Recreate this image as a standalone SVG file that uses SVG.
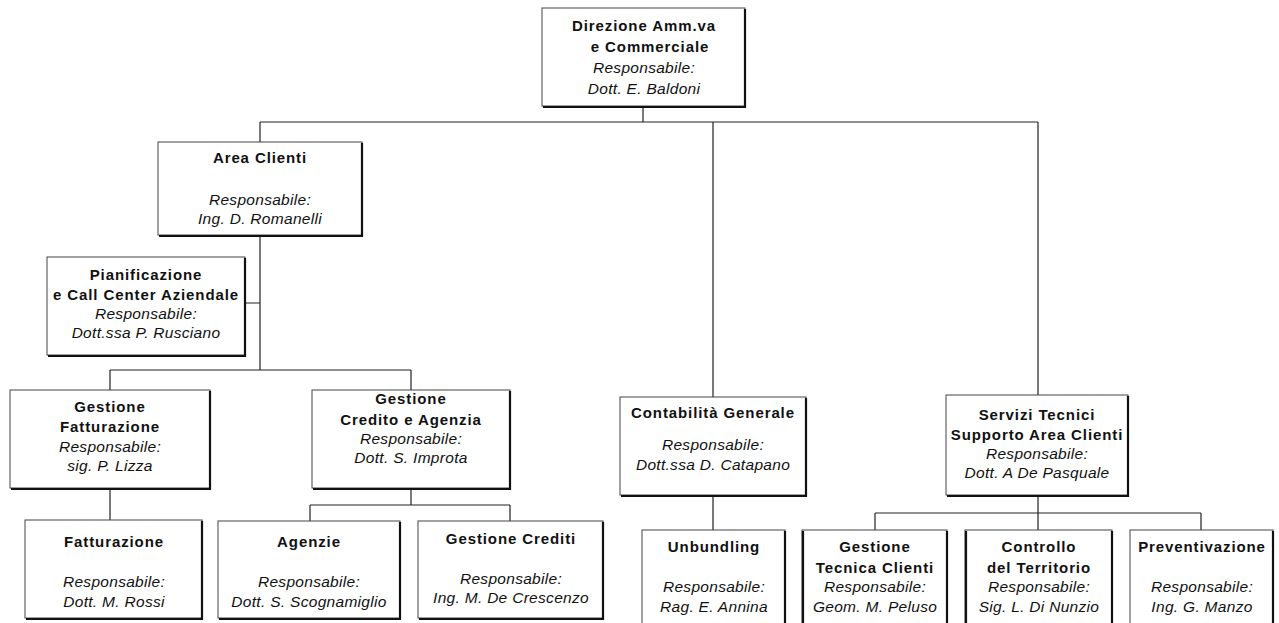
<svg xmlns="http://www.w3.org/2000/svg" width="1279" height="623" viewBox="0 0 1279 623">
<style>
.box{fill:#fff;stroke:#444;stroke-width:1}
.sh{fill:none;stroke:#111;stroke-width:2.2}
.t{font-family:"Liberation Sans",Arial,sans-serif;font-size:15px;font-weight:bold;letter-spacing:0.9px;text-anchor:middle;fill:#111}
.i{font-family:"Liberation Sans",Arial,sans-serif;font-size:15.5px;font-style:italic;letter-spacing:0.3px;text-anchor:middle;fill:#111}
.c{fill:none;stroke:#222;stroke-width:1.2}
</style>
<rect width="1279" height="623" fill="#fff"/>
<g id="connectors">
<path class="c" d="M643 106V122M260 122H1038M260 122V142M713 122V397M1038 122V395"/>
<path class="c" d="M260 235V370M245 303H260M110 370H411M110 370V390M411 370V390"/>
<path class="c" d="M110 488V520M411 488V505M310 505H510M310 505V521M510 505V521"/>
<path class="c" d="M713 495V530M1038 495V513M875 513H1201M875 513V530M1038 513V530M1201 513V530"/>
</g>
<g id="direzione">
<rect class="box" x="542" y="8" width="203" height="98"/>
<path class="sh" d="M745 9V107H543"/>
<text class="t" x="644" y="31">Direzione Amm.va</text>
<text class="t" x="650" y="52">e Commerciale</text>
<text class="i" x="644" y="73">Responsabile:</text>
<text class="i" x="644" y="94">Dott. E. Baldoni</text>
</g>
<g id="area-clienti">
<rect class="box" x="158" y="142" width="204" height="93"/>
<path class="sh" d="M362 143V236H159"/>
<text class="t" x="260" y="163">Area Clienti</text>
<text class="i" x="260" y="205">Responsabile:</text>
<text class="i" x="260" y="224">Ing. D. Romanelli</text>
</g>
<g id="pianificazione">
<rect class="box" x="47" y="257" width="198" height="98"/>
<path class="sh" d="M245 258V356H48"/>
<text class="t" x="146" y="280">Pianificazione</text>
<text class="t" x="146" y="300">e Call Center Aziendale</text>
<text class="i" x="146" y="319">Responsabile:</text>
<text class="i" x="146" y="338">Dott.ssa P. Rusciano</text>
</g>
<g id="gestione-fatturazione">
<rect class="box" x="10" y="390" width="200" height="98"/>
<path class="sh" d="M210 391V489H11"/>
<text class="t" x="110" y="412">Gestione</text>
<text class="t" x="110" y="432">Fatturazione</text>
<text class="i" x="110" y="452">Responsabile:</text>
<text class="i" x="110" y="471">sig. P. Lizza</text>
</g>
<g id="gestione-credito">
<rect class="box" x="312" y="390" width="198" height="98"/>
<path class="sh" d="M510 391V489H313"/>
<text class="t" x="411" y="404">Gestione</text>
<text class="t" x="411" y="425">Credito e Agenzia</text>
<text class="i" x="411" y="444">Responsabile:</text>
<text class="i" x="411" y="463">Dott. S. Improta</text>
</g>
<g id="contabilita">
<rect class="box" x="620" y="397" width="186" height="98"/>
<path class="sh" d="M806 398V496H621"/>
<text class="t" x="713" y="418">Contabilità Generale</text>
<text class="i" x="713" y="450">Responsabile:</text>
<text class="i" x="713" y="470">Dott.ssa D. Catapano</text>
</g>
<g id="servizi-tecnici">
<rect class="box" x="946" y="395" width="182" height="100"/>
<path class="sh" d="M1128 396V496H947"/>
<text class="t" x="1037" y="420">Servizi Tecnici</text>
<text class="t" x="1037" y="440">Supporto Area Clienti</text>
<text class="i" x="1037" y="459">Responsabile:</text>
<text class="i" x="1037" y="478">Dott. A De Pasquale</text>
</g>
<g id="fatturazione">
<rect class="box" x="25" y="520" width="177" height="98"/>
<path class="sh" d="M202 521V619H26"/>
<text class="t" x="114" y="547">Fatturazione</text>
<text class="i" x="114" y="587">Responsabile:</text>
<text class="i" x="114" y="607">Dott. M. Rossi</text>
</g>
<g id="agenzie">
<rect class="box" x="218" y="521" width="182" height="97"/>
<path class="sh" d="M400 522V619H219"/>
<text class="t" x="309" y="547">Agenzie</text>
<text class="i" x="309" y="587">Responsabile:</text>
<text class="i" x="309" y="607">Dott. S. Scognamiglio</text>
</g>
<g id="gestione-crediti">
<rect class="box" x="418" y="521" width="185" height="97"/>
<path class="sh" d="M603 522V619H419"/>
<text class="t" x="511" y="544">Gestione Crediti</text>
<text class="i" x="511" y="584">Responsabile:</text>
<text class="i" x="511" y="603">Ing. M. De Crescenzo</text>
</g>
<g id="unbundling">
<rect class="box" x="642" y="530" width="143" height="97"/>
<path class="sh" d="M785 531V628"/>
<text class="t" x="714" y="552">Unbundling</text>
<text class="i" x="714" y="592">Responsabile:</text>
<text class="i" x="714" y="612">Rag. E. Annina</text>
</g>
<g id="gestione-tecnica">
<rect class="box" x="802" y="530" width="145" height="97"/>
<path class="sh" d="M947 531V628M803 531V628"/>
<text class="t" x="875" y="552">Gestione</text>
<text class="t" x="875" y="573">Tecnica Clienti</text>
<text class="i" x="875" y="592">Responsabile:</text>
<text class="i" x="875" y="612">Geom. M. Peluso</text>
</g>
<g id="controllo">
<rect class="box" x="965" y="530" width="147" height="97"/>
<path class="sh" d="M1112 531V628M966 531V628"/>
<text class="t" x="1039" y="552">Controllo</text>
<text class="t" x="1039" y="573">del Territorio</text>
<text class="i" x="1039" y="592">Responsabile:</text>
<text class="i" x="1039" y="612">Sig. L. Di Nunzio</text>
</g>
<g id="preventivazione">
<rect class="box" x="1130" y="530" width="143" height="97"/>
<path class="sh" d="M1273 531V628"/>
<text class="t" x="1202" y="552">Preventivazione</text>
<text class="i" x="1202" y="592">Responsabile:</text>
<text class="i" x="1202" y="612">Ing. G. Manzo</text>
</g>
</svg>
